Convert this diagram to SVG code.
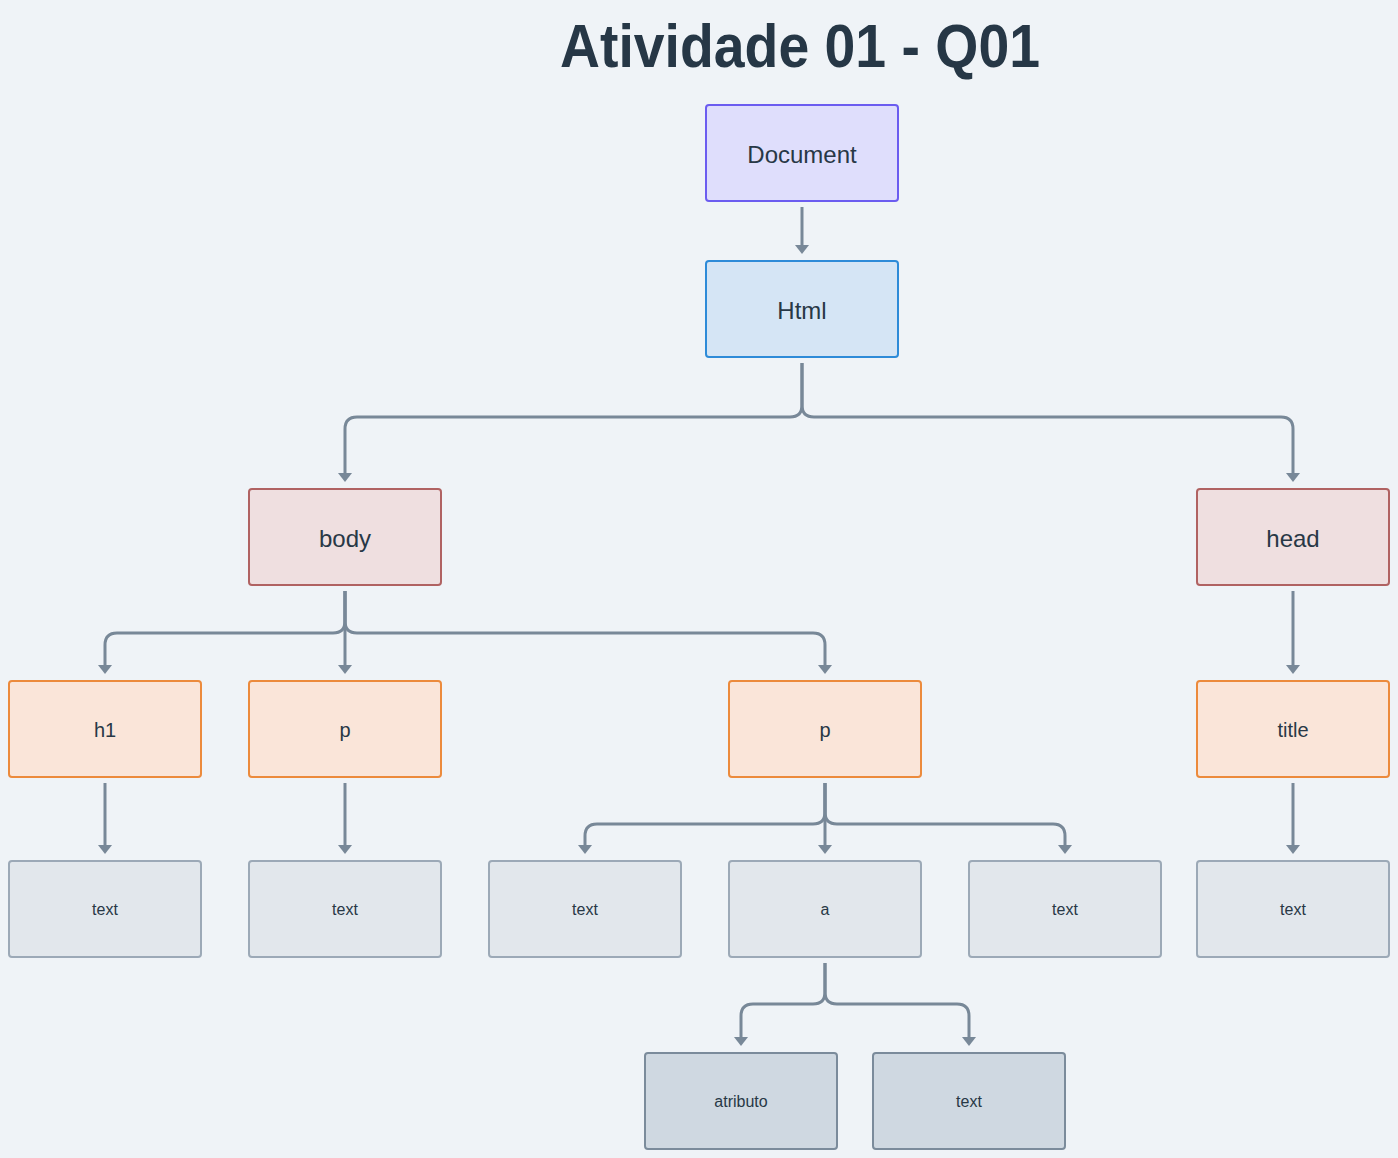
<svg xmlns="http://www.w3.org/2000/svg" width="1398" height="1158" viewBox="0 0 1398 1158">
<style>
  .n rect { stroke-width: 2; }
  .doc rect { fill: #DFDEFC; stroke: #6B5CF0; }
  .html rect { fill: #D5E5F5; stroke: #2E8BD8; }
  .sec rect { fill: #EFDFE0; stroke: #B06262; }
  .el rect { fill: #FAE5D9; stroke: #EC8A3C; }
  .leaf rect { fill: #E2E7EC; stroke: #9CA9B7; }
  .deep rect { fill: #CFD8E1; stroke: #7B8B9B; }
  text { font-family: "Liberation Sans", Arial, sans-serif; fill: #283846; text-anchor: middle; }
  .big { font-size: 24px; }
  .mid { font-size: 20px; }
  .sm { font-size: 16px; }
  .title { font-size: 62px; font-weight: bold; fill: #263746; }
  #connectors path { fill: none; stroke: #788898; stroke-width: 3; marker-end: url(#ah); }
</style>
<defs>
  <marker id="ah" viewBox="0 0 10 10" refX="0" refY="5" markerUnits="userSpaceOnUse" markerWidth="9" markerHeight="14" orient="auto" preserveAspectRatio="none">
    <path d="M0,0 L10,5 L0,10 Z" fill="#788898"/>
  </marker>
</defs>
<rect width="1398" height="1158" fill="#EFF3F7"/>
<text class="title" x="800" y="67" textLength="480" lengthAdjust="spacingAndGlyphs">Atividade 01 - Q01</text>

<g id="connectors">
  <path d="M802 207 V245"/>
  <path d="M802 363 V405 Q802 417 790 417 H357 Q345 417 345 429 V473"/>
  <path d="M802 363 V405 Q802 417 814 417 H1281 Q1293 417 1293 429 V473"/>
  <path d="M345 591 V621 Q345 633 333 633 H117 Q105 633 105 645 V665"/>
  <path d="M345 591 V665"/>
  <path d="M345 591 V621 Q345 633 357 633 H813 Q825 633 825 645 V665"/>
  <path d="M1293 591 V665"/>
  <path d="M105 783 V845"/>
  <path d="M345 783 V845"/>
  <path d="M1293 783 V845"/>
  <path d="M825 783 V812 Q825 824 813 824 H597 Q585 824 585 836 V845"/>
  <path d="M825 783 V845"/>
  <path d="M825 783 V812 Q825 824 837 824 H1053 Q1065 824 1065 836 V845"/>
  <path d="M825 963 V992 Q825 1004 813 1004 H753 Q741 1004 741 1016 V1037"/>
  <path d="M825 963 V992 Q825 1004 837 1004 H957 Q969 1004 969 1016 V1037"/>
</g>

<g id="document" class="n doc"><rect x="706" y="105" width="192" height="96" rx="3"/><text class="big" x="802" y="163">Document</text></g>
<g id="html" class="n html"><rect x="706" y="261" width="192" height="96" rx="3"/><text class="big" x="802" y="319">Html</text></g>
<g id="body" class="n sec"><rect x="249" y="489" width="192" height="96" rx="3"/><text class="big" x="345" y="547">body</text></g>
<g id="head" class="n sec"><rect x="1197" y="489" width="192" height="96" rx="3"/><text class="big" x="1293" y="547">head</text></g>
<g id="h1" class="n el"><rect x="9" y="681" width="192" height="96" rx="3"/><text class="mid" x="105" y="737">h1</text></g>
<g id="p1" class="n el"><rect x="249" y="681" width="192" height="96" rx="3"/><text class="mid" x="345" y="737">p</text></g>
<g id="p2" class="n el"><rect x="729" y="681" width="192" height="96" rx="3"/><text class="mid" x="825" y="737">p</text></g>
<g id="title" class="n el"><rect x="1197" y="681" width="192" height="96" rx="3"/><text class="mid" x="1293" y="737">title</text></g>
<g id="h1-text" class="n leaf"><rect x="9" y="861" width="192" height="96" rx="3"/><text class="sm" x="105" y="915">text</text></g>
<g id="p1-text" class="n leaf"><rect x="249" y="861" width="192" height="96" rx="3"/><text class="sm" x="345" y="915">text</text></g>
<g id="p2-text1" class="n leaf"><rect x="489" y="861" width="192" height="96" rx="3"/><text class="sm" x="585" y="915">text</text></g>
<g id="a" class="n leaf"><rect x="729" y="861" width="192" height="96" rx="3"/><text class="sm" x="825" y="915">a</text></g>
<g id="p2-text2" class="n leaf"><rect x="969" y="861" width="192" height="96" rx="3"/><text class="sm" x="1065" y="915">text</text></g>
<g id="title-text" class="n leaf"><rect x="1197" y="861" width="192" height="96" rx="3"/><text class="sm" x="1293" y="915">text</text></g>
<g id="atributo" class="n deep"><rect x="645" y="1053" width="192" height="96" rx="3"/><text class="sm" x="741" y="1107">atributo</text></g>
<g id="a-text" class="n deep"><rect x="873" y="1053" width="192" height="96" rx="3"/><text class="sm" x="969" y="1107">text</text></g>
</svg>
